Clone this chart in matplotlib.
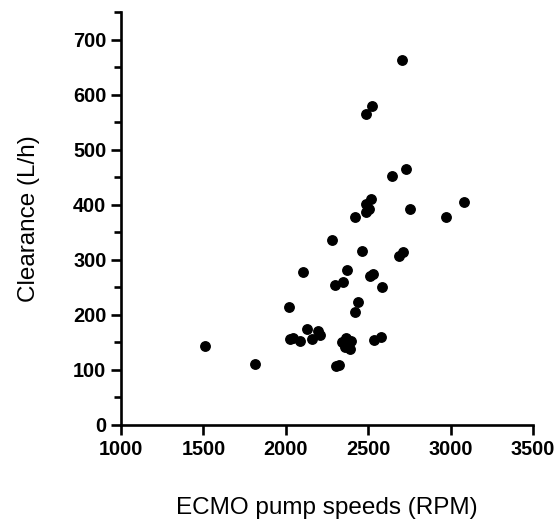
import numpy as np
import matplotlib.pyplot as plt
from matplotlib.ticker import MultipleLocator

plt.rcParams['font.family'] = ['Liberation Sans', 'DejaVu Sans']

# pump speed (RPM) and clearance (L/h)
rpm = [1509, 1814, 2021, 2025, 2045, 2087, 2107, 2130, 2158, 2196,
       2206, 2281, 2301, 2348, 2372, 2304, 2324, 2344, 2368, 2378,
       2398, 2388, 2358, 2417, 2421, 2441, 2463, 2489, 2524, 2489,
       2518, 2489, 2502, 2514, 2530, 2534, 2576, 2584, 2647, 2704,
       2688, 2712, 2732, 2752, 2975, 3084]
clearance = [144, 111, 214, 157, 159, 153, 278, 174, 156, 171,
             163, 337, 255, 259, 282, 108, 109, 150, 158, 145,
             152, 139, 142, 378, 206, 224, 316, 565, 579, 402,
             410, 388, 392, 271, 274, 155, 160, 251, 453, 664,
             308, 314, 466, 393, 378, 405]

fig = plt.figure(figsize=(5.56, 5.25), dpi=100)
ax = fig.add_axes([0.2176, 0.1905, 0.741, 0.787])
ax.plot(rpm, clearance, 'o', color='black', markersize=6.8, clip_on=False)

ax.set_xlim(1000, 3500)
ax.set_ylim(0, 751)
ax.set_xticks(np.arange(1000, 3501, 500))
ax.set_yticks(np.arange(0, 701, 100))
ax.yaxis.set_minor_locator(MultipleLocator(50))

for s in ['top', 'right']:
    ax.spines[s].set_visible(False)
for s in ['left', 'bottom']:
    ax.spines[s].set_linewidth(1.9)

ax.tick_params(axis='both', which='major', length=7, width=1.9, labelsize=14.3)
ax.tick_params(axis='y', which='minor', length=5, width=1.9)
for lbl in ax.get_xticklabels() + ax.get_yticklabels():
    lbl.set_fontweight('bold')

ax.set_xlabel('ECMO pump speeds (RPM)', fontsize=17.5, labelpad=28)
ax.set_ylabel('Clearance (L/h)', fontsize=17.5, labelpad=24)

fig.savefig('out.png', dpi=100)
